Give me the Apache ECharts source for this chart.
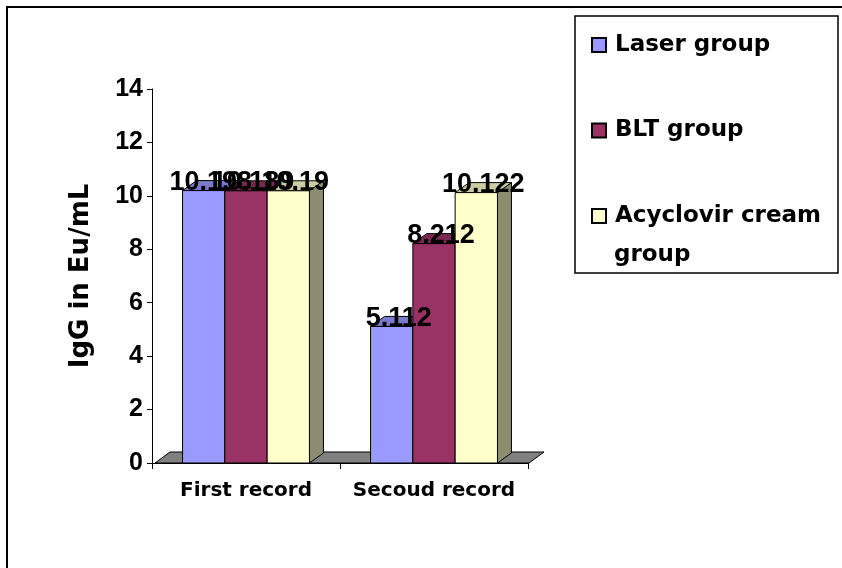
<!DOCTYPE html>
<html>
<head>
<meta charset="utf-8">
<script src="https://cdn.jsdelivr.net/npm/echarts@6/dist/echarts.min.js"></script>
<style>
  html, body { margin: 0; padding: 0; background: #fff; }
  #chart { width: 842px; height: 568px; }
</style>
</head>
<body>
<div id="chart"></div>
<script>
// Categories and measured IgG values (Eu/mL)
const categories = ['First record', 'Secoud record'];
const seriesNames = ['Laser group', 'BLT group', 'Acyclovir cream group'];
const laserValues = [10.198, 5.112];
const bltValues = [10.189, 8.212];
const acyclovirValues = [10.19, 10.122];
const yTicks = [0, 2, 4, 6, 8, 10, 12, 14];

const seriesValues = [laserValues, bltValues, acyclovirValues];
const colors = ['#9999FF', '#993366', '#FFFFCC'];

// 3D look: depth offset of the columns and the floor
const DX = 14, DY = -10;
const BAR_FRAC = 0.225;

function shade(hex, f) {
  const n = parseInt(hex.slice(1), 16);
  const r = Math.round(((n >> 16) & 255) * f);
  const g = Math.round(((n >> 8) & 255) * f);
  const b = Math.round((n & 255) * f);
  return 'rgb(' + r + ',' + g + ',' + b + ')';
}

function makeBarRenderer(k) {
  const color = colors[k];
  return function (params, api) {
    const cat = api.value(0), val = api.value(1);
    const base = api.coord([cat, 0]);
    const top = api.coord([cat, val]);
    const band = api.size([1, 0])[0];
    const w = band * BAR_FRAC;
    const x0 = base[0] - 1.5 * w + k * w;
    const ty = top[1], by = base[1];
    const stroke = { stroke: '#000', lineWidth: 1 };
    return {
      type: 'group',
      children: [
        {
          type: 'polygon',
          shape: { points: [[x0 + w, ty], [x0 + w + DX, ty + DY], [x0 + w + DX, by + DY], [x0 + w, by]] },
          style: Object.assign({ fill: shade(color, 0.55) }, stroke)
        },
        {
          type: 'polygon',
          shape: { points: [[x0, ty], [x0 + w, ty], [x0 + w + DX, ty + DY], [x0 + DX, ty + DY]] },
          style: Object.assign({ fill: shade(color, 0.8) }, stroke)
        },
        {
          type: 'rect',
          shape: { x: x0, y: ty, width: w, height: by - ty },
          style: Object.assign({ fill: color }, stroke)
        },
        {
          type: 'text',
          z2: 100,
          x: x0 + w / 2 + DX / 2,
          y: ty - 8,
          style: {
            text: String(val),
            fill: '#000',
            font: 'bold 27px "Liberation Sans", Arial, sans-serif',
            align: 'center',
            verticalAlign: 'middle'
          }
        }
      ]
    };
  };
}

function renderFloor(params, api) {
  const cs = params.coordSys;
  const fy = cs.y + cs.height;
  const xl = cs.x + 3, xr = cs.x + cs.width + 1;
  return {
    type: 'polygon',
    shape: { points: [[xl, fy], [xr, fy], [xr + DX + 1, fy + DY - 1], [xl + DX + 1, fy + DY - 1]] },
    style: { fill: '#808080', stroke: '#000', lineWidth: 1 }
  };
}

const barSeries = seriesNames.map(function (name, k) {
  return {
    name: name,
    type: 'custom',
    z: 3,
    renderItem: makeBarRenderer(k),
    itemStyle: { color: colors[k], borderColor: '#000', borderWidth: 1 },
    encode: { x: 0, y: 1 },
    data: seriesValues[k].map(function (v, i) { return [i, v]; })
  };
});

const chart = echarts.init(document.getElementById('chart'), null, { renderer: 'canvas' });
chart.setOption({
  animation: false,
  backgroundColor: '#fff',
  grid: { left: 152, right: 314, top: 89, bottom: 105 },
  xAxis: {
    type: 'category',
    data: categories,
    axisLine: { lineStyle: { color: '#000', width: 1 } },
    axisTick: { show: true, length: 6, lineStyle: { color: '#000' } },
    axisLabel: {
      interval: 0,
      hideOverlap: false,
      color: '#000',
      fontFamily: 'DejaVu Sans',
      fontWeight: 'bold',
      fontSize: 20,
      margin: 18
    }
  },
  yAxis: {
    type: 'value',
    min: yTicks[0],
    max: yTicks[yTicks.length - 1],
    interval: yTicks[1] - yTicks[0],
    name: 'IgG in Eu/mL',
    nameLocation: 'middle',
    nameGap: 58,
    nameTextStyle: {
      color: '#000',
      fontFamily: 'DejaVu Sans',
      fontWeight: 'bold',
      fontSize: 26
    },
    axisLine: { show: true, lineStyle: { color: '#000', width: 1 } },
    axisTick: { show: true, length: 5, lineStyle: { color: '#000' } },
    splitLine: { show: false },
    axisLabel: {
      color: '#000',
      fontFamily: 'Liberation Sans',
      fontWeight: 'bold',
      fontSize: 25,
      margin: 9
    }
  },
  legend: {
    orient: 'vertical',
    left: 591,
    top: 31,
    padding: 0,
    icon: 'rect',
    itemWidth: 14,
    itemHeight: 14,
    itemGap: 57.5,
    data: seriesNames,
    formatter: function (name) {
      return name === 'Acyclovir cream group' ? 'Acyclovir cream' : name;
    },
    textStyle: {
      color: '#000',
      fontFamily: 'DejaVu Sans',
      fontWeight: 'bold',
      fontSize: 23,
      lineHeight: 28,
      padding: [0, 0, 0, 4]
    }
  },
  graphic: [
    {
      type: 'polyline',
      shape: { points: [[7, 568], [7, 7], [842, 7]] },
      style: { stroke: '#000', lineWidth: 2, fill: null }
    },
    {
      type: 'rect',
      shape: { x: 575, y: 16, width: 263, height: 257 },
      style: { stroke: '#000', lineWidth: 1.5, fill: null }
    },
    {
      type: 'text',
      x: 614,
      y: 255,
      style: {
        text: 'group',
        fill: '#000',
        font: 'bold 23px "DejaVu Sans"',
        verticalAlign: 'middle'
      }
    }
  ],
  series: [
    {
      name: 'floor',
      type: 'custom',
      z: 1,
      renderItem: renderFloor,
      data: [[0, 0]],
      encode: { x: 0, y: 1 },
      silent: true
    }
  ].concat(barSeries)
});
</script>
</body>
</html>
